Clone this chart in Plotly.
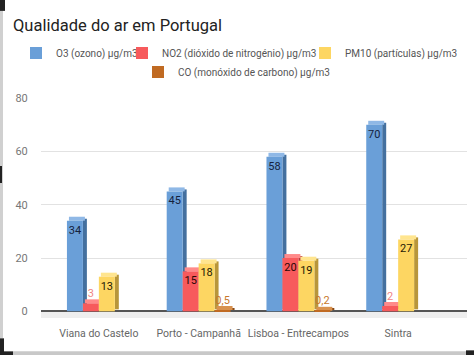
import plotly.graph_objects as go

# ---- data ----
categories = ["Viana do Castelo", "Porto - Campanhã", "Lisboa - Entrecampos", "Sintra"]
o3 = [34, 45, 58, 70]
no2 = [3, 15, 20, 2]
pm10 = [13, 18, 19, 27]
co = [None, 0.5, 0.2, None]
series_names = ["O3 (ozono) µg/m3", "NO2 (dióxido de nitrogénio) µg/m3",
                "PM10 (partículas) µg/m3", "CO (monóxido de carbono) µg/m3"]
y_ticks = [0, 20, 40, 60, 80]

# ---- styles ----
FONT = "Roboto, Arial, sans-serif"
front_colors = ["#6a9fd8", "#f75a5c", "#fdd662", "#c06a22"]
side_colors = ["#44709f", "#b83a3c", "#b8963a", "#874712"]
top_colors = ["#8fb8e6", "#ff8a8a", "#ffe58f", "#d8914f"]
inside_text_colors = ["#15223d", "#2a0606", "#1f1a05", "#222222"]
outside_text_colors = ["#f08585", "#f08585", "#c8a23a", "#c8782d"]

W = 474
H = 355
ML, MR, MT, MB = 41, 7, 98, 37.3
bar_w = 0.16
offsets = [-0.32, -0.16, 0.0, 0.16]
dx = 0.04      # depth in category units
dy = 1.5       # depth in data units

# legend placement (text start x, row centre y) in pixels
legend_ids = ["legend", "legend2", "legend3", "legend4"]
legend_text_x = [54, 160, 343, 176]
legend_row_y = [53, 53, 53, 72]

all_series = [o3, no2, pm10, co]


def fmt(v):
    if v is None:
        return ""
    return ("%g" % v).replace(".", ",")


fig = go.Figure()

# back faces (side + top) first
for i, vals in enumerate(all_series):
    fig.add_trace(go.Bar(
        x=categories, y=vals, base=dy / 2, offset=offsets[i] + bar_w, width=dx,
        marker=dict(color=side_colors[i], line=dict(width=0)),
        showlegend=False, hoverinfo="skip"))
    fig.add_trace(go.Bar(
        x=categories, y=[None if v is None else dy for v in vals],
        base=[0 if v is None else v for v in vals],
        offset=offsets[i] + dx / 2, width=bar_w,
        marker=dict(color=top_colors[i], line=dict(width=0)),
        showlegend=False, hoverinfo="skip"))

# front faces with labels
for i, vals in enumerate(all_series):
    fig.add_trace(go.Bar(
        x=categories, y=vals, offset=offsets[i], width=bar_w, name=series_names[i],
        legend=legend_ids[i], showlegend=True,
        marker=dict(color=front_colors[i], line=dict(width=0)),
        text=[fmt(v) for v in vals],
        textposition=["inside" if (v is not None and v >= 5) else "outside" for v in vals],
        insidetextanchor="end", textangle=0,
        insidetextfont=dict(family=FONT, size=11, color=inside_text_colors[i]),
        outsidetextfont=dict(family=FONT, size=11, color=outside_text_colors[i]),
        cliponaxis=False))


def px_x(p):
    return (p - ML) / (W - ML - MR)


def px_y(p):
    return (H - MB - p) / (H - MT - MB)


shapes = [
    # floor under the bars
    dict(type="rect", xref="paper", yref="y", x0=0, x1=1, y0=-2.5, y1=0,
         fillcolor="#eeeeee", line=dict(width=0), layer="below"),
    # screenshot frame artifacts
    dict(type="rect", xref="paper", yref="paper", x0=px_x(0), x1=px_x(3), y0=px_y(338), y1=px_y(10),
         fillcolor="#d0d0d0", line=dict(width=0)),
    dict(type="rect", xref="paper", yref="paper", x0=px_x(0), x1=px_x(5), y0=px_y(11), y1=px_y(0),
         fillcolor="#222222", line=dict(width=0)),
    dict(type="rect", xref="paper", yref="paper", x0=px_x(0), x1=px_x(2), y0=px_y(183), y1=px_y(166),
         fillcolor="#222222", line=dict(width=0)),
    dict(type="rect", xref="paper", yref="paper", x0=px_x(0), x1=px_x(4), y0=px_y(355), y1=px_y(338),
         fillcolor="#222222", line=dict(width=0)),
    dict(type="rect", xref="paper", yref="paper", x0=px_x(0), x1=px_x(13), y0=px_y(355), y1=px_y(351),
         fillcolor="#222222", line=dict(width=0)),
    dict(type="rect", xref="paper", yref="paper", x0=px_x(13), x1=px_x(466), y0=px_y(355), y1=px_y(351),
         fillcolor="#c8c8c8", line=dict(width=0)),
    dict(type="rect", xref="paper", yref="paper", x0=px_x(466), x1=px_x(474), y0=px_y(355), y1=px_y(350),
         fillcolor="#222222", line=dict(width=0)),
]

legend_layouts = {}
for i, lid in enumerate(legend_ids):
    legend_layouts[lid] = dict(
        orientation="h", xref="container", yref="container",
        x=(legend_text_x[i] - 38) / W, xanchor="left",
        y=1 - legend_row_y[i] / H, yanchor="middle",
        font=dict(family=FONT, size=10, color="#555555"),
        bgcolor="rgba(0,0,0,0)", borderwidth=0, itemwidth=30)

fig.update_layout(
    width=W, height=H,
    margin=dict(l=ML, r=MR, t=MT, b=MB, pad=0, autoexpand=False),
    paper_bgcolor="white", plot_bgcolor="white",
    barmode="overlay",
    font=dict(family=FONT, color="#555555"),
    title=dict(text="Qualidade do ar em Portugal", x=13 / W, xanchor="left", xref="container",
               y=1 - 19 / H, yanchor="top", yref="container",
               font=dict(family=FONT, size=16.5, color="#222222")),
    shapes=shapes,
    uniformtext=dict(minsize=11, mode="show"),
    showlegend=True,
    **legend_layouts,
)
fig.update_xaxes(type="category", range=[-0.58, 3.69], showgrid=False, zeroline=False,
                 showline=False, ticks="outside", ticklen=5, tickcolor="rgba(0,0,0,0)",
                 tickangle=0, automargin=False,
                 tickfont=dict(family=FONT, size=10.5, color="#666666"), fixedrange=True)
fig.update_yaxes(range=[-2.5, 80.05], tickvals=y_ticks, showgrid=True, gridcolor="#e2e2e2",
                 gridwidth=1, zeroline=True, zerolinecolor="#555555", zerolinewidth=1.5,
                 showline=False, ticks="outside", ticklen=10, tickcolor="rgba(0,0,0,0)",
                 automargin=False,
                 tickfont=dict(family=FONT, size=11, color="#777777"), fixedrange=True)

fig.write_html("out.html", config={"displayModeBar": False},
               post_script="document.body.style.margin='0';document.body.style.overflow='hidden';")
